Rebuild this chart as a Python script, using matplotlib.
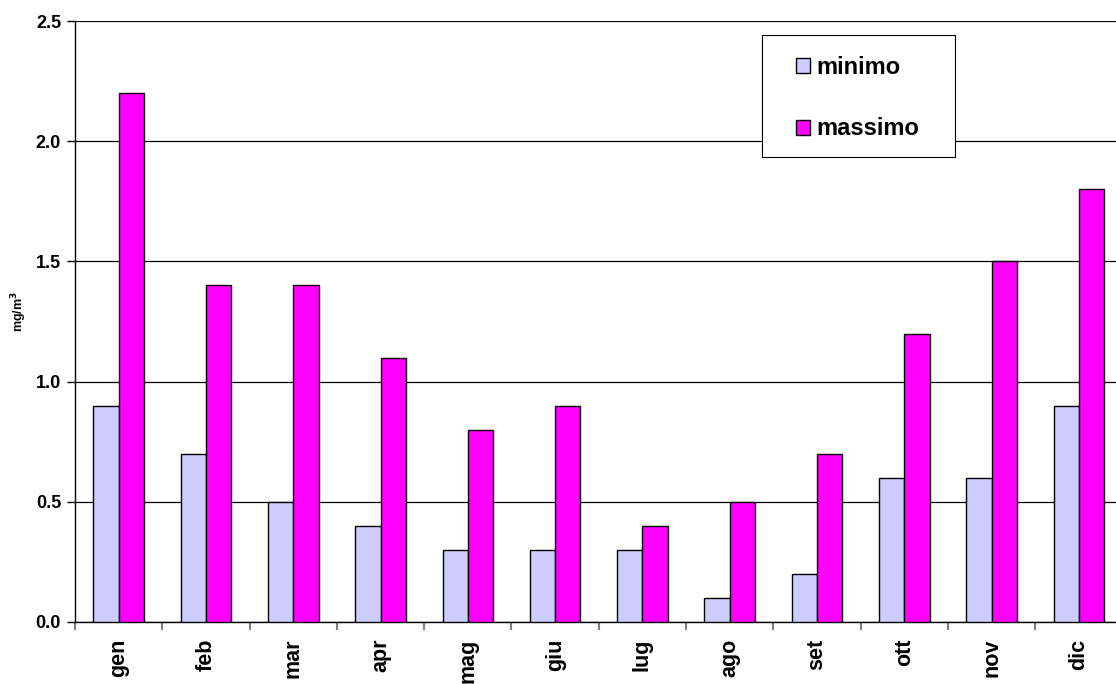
import numpy as np
import matplotlib
matplotlib.use('Agg')
import matplotlib.pyplot as plt
from matplotlib.patches import Rectangle

months = ['gen', 'feb', 'mar', 'apr', 'mag', 'giu', 'lug', 'ago', 'set', 'ott', 'nov', 'dic']
minimo = [0.9, 0.7, 0.5, 0.4, 0.3, 0.3, 0.3, 0.1, 0.2, 0.6, 0.6, 0.9]
massimo = [2.2, 1.4, 1.4, 1.1, 0.8, 0.9, 0.4, 0.5, 0.7, 1.2, 1.5, 1.8]

plt.rcParams['font.family'] = ['Liberation Sans', 'DejaVu Sans']
plt.rcParams['font.weight'] = 'bold'

fig = plt.figure(figsize=(11.16, 6.84), dpi=100)
# plot area runs past the right edge of the picture, as in the original
ax = fig.add_axes([75 / 1116, 62 / 684, 1047.6 / 1116, 601 / 684])

x = np.arange(len(months))
w = 0.29
ax.bar(x - w / 2, minimo, w, color='#ccccff', edgecolor='black', linewidth=1, label='minimo', zorder=3)
ax.bar(x + w / 2, massimo, w, color='#ff00ff', edgecolor='black', linewidth=1, label='massimo', zorder=3)

ax.set_xlim(-0.5, len(months) - 0.5)
ax.set_ylim(0, 2.5)
ax.set_yticks(np.arange(0, 2.51, 0.5))
ax.set_yticklabels(['{:.1f}'.format(v) for v in np.arange(0, 2.51, 0.5)], fontsize=13, fontweight='bold')
ax.yaxis.grid(True, color='black', linewidth=0.9, zorder=0)
ax.set_axisbelow(True)

ax.set_xticks(x)
ax.set_xticklabels(months, rotation=90, fontsize=15.5, fontweight='bold')
ax.tick_params(axis='x', length=0, pad=12)
ax.set_xticks(np.arange(-0.5, len(months), 1), minor=True)
ax.tick_params(axis='x', which='minor', length=6, color='gray', width=1.5)
ax.tick_params(axis='y', length=6, width=1, direction='out', pad=4)

for s in ['top', 'right']:
    ax.spines[s].set_visible(False)
ax.spines['left'].set_linewidth(1)
ax.spines['bottom'].set_linewidth(1)

ax.set_ylabel('mg/m$^3$', fontsize=9, fontweight='bold', labelpad=5, y=0.516)

# legend box drawn by hand, the original has wide side margins
box = Rectangle((762 / 1116, (684 - 157) / 684), 193 / 1116, 122 / 684,
                transform=fig.transFigure, facecolor='white', edgecolor='black',
                linewidth=0.8, zorder=4.5)
ax.add_patch(box)
leg = ax.legend(loc='upper left', bbox_to_anchor=(714 / 1047.6, 1 - 28 / 601),
                fontsize=17, frameon=False,
                labelspacing=1.62, handlelength=0.6, handleheight=0.6, handletextpad=0.25,
                borderpad=0.3, borderaxespad=0)
leg.set_zorder(5)
for t in leg.get_texts():
    t.set_fontweight('bold')

fig.savefig('out.png', dpi=100)
